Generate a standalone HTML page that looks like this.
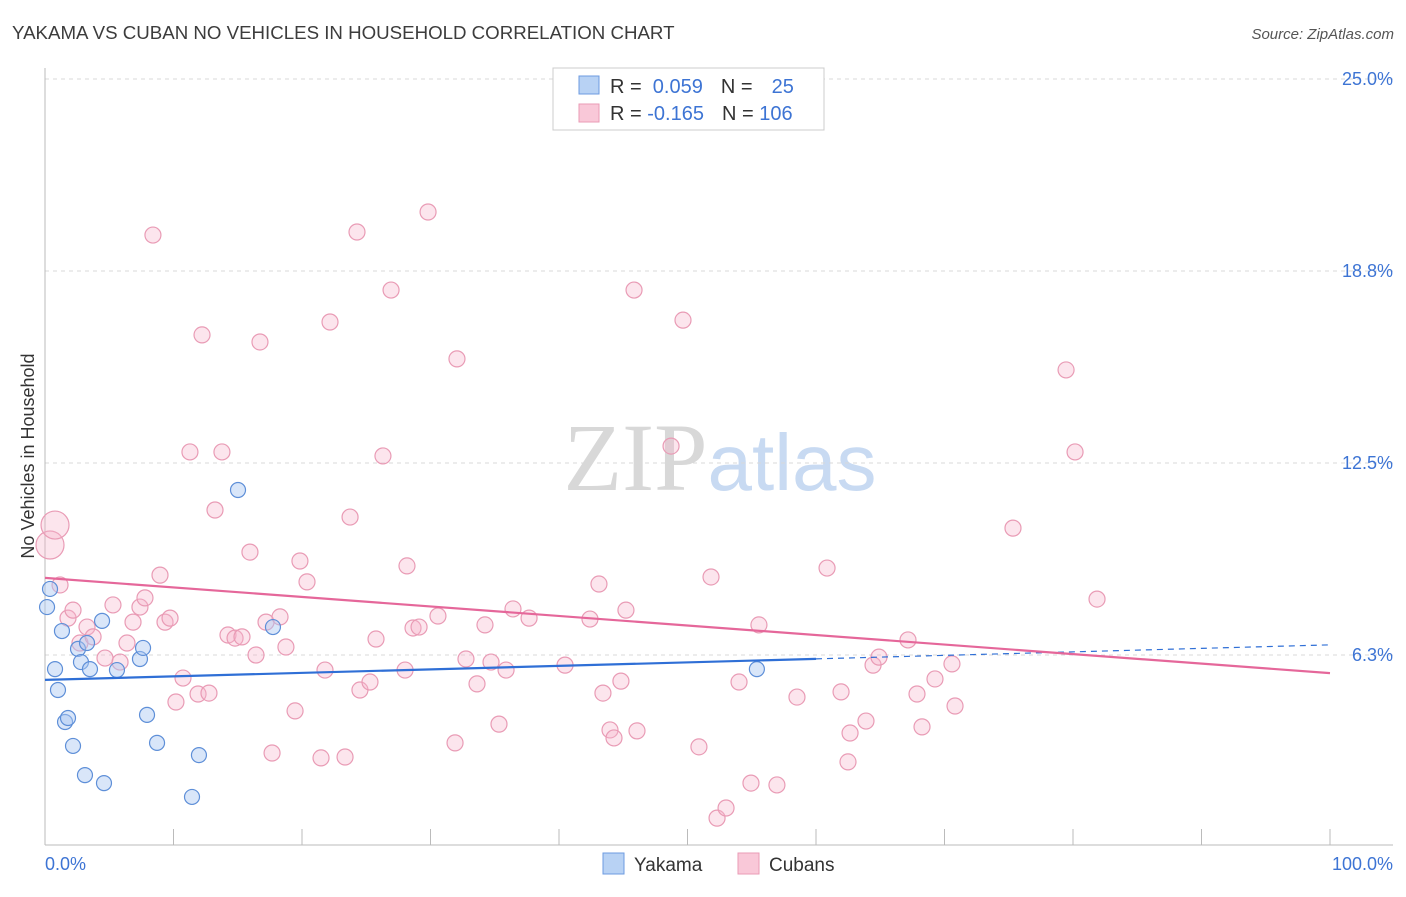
<!DOCTYPE html>
<html><head><meta charset="utf-8"><style>
body{margin:0;background:#fff;font-family:"Liberation Sans",sans-serif;}
svg text{font-family:"Liberation Sans",sans-serif;}
</style></head><body>
<svg id="chart" width="1406" height="892" xmlns="http://www.w3.org/2000/svg">
<text x="12" y="39" font-size="18.7" fill="#3c3c3c">YAKAMA VS CUBAN NO VEHICLES IN HOUSEHOLD CORRELATION CHART</text>
<text x="1394" y="39" font-size="15" fill="#555" text-anchor="end" font-style="italic">Source: ZipAtlas.com</text>
<text x="720" y="490" font-size="96" text-anchor="middle"><tspan fill="#d8d8d8" font-family="Liberation Serif">ZIP</tspan><tspan fill="#c8daf2" font-size="80">atlas</tspan></text>
<text transform="translate(34,456) rotate(-90)" font-size="18" fill="#333" text-anchor="middle">No Vehicles in Household</text>
<g id="grid"></g>
<g id="axes"></g>
<g id="marks"></g>
<g>
<rect x="553" y="68" width="271" height="62" fill="#fff" stroke="#ccc"/>
<rect x="579" y="76" width="20" height="18" fill="#b8d2f4" stroke="#6d9be0"/>
<rect x="579" y="104" width="20" height="18" fill="#f9c8d8" stroke="#ea9bb6"/>
<text x="610" y="93" font-size="20" fill="#333">R = <tspan fill="#3d74d4">&#160;0.059</tspan><tspan dx="18" fill="#333">N = </tspan><tspan fill="#3d74d4" dx="8">&#160;25</tspan></text>
<text x="610" y="120" font-size="20" fill="#333">R = <tspan fill="#3d74d4">-0.165</tspan><tspan dx="18" fill="#333">N = </tspan><tspan fill="#3d74d4">106</tspan></text>
</g>
<g>
<rect x="603" y="853" width="21" height="21" fill="#b8d2f4" stroke="#6d9be0"/>
<text x="634" y="871" font-size="19" fill="#333">Yakama</text>
<rect x="738" y="853" width="21" height="21" fill="#f9c8d8" stroke="#ea9bb6"/>
<text x="769" y="871" font-size="19" fill="#333">Cubans</text>
</g>
</svg>
<script>
const yTicks=[25,18.75,12.5,6.25];
const yTickLabels=["25.0%","18.8%","12.5%","6.3%"];
const yakamaX=[0.16,0.39,0.78,1.01,1.32,1.56,1.79,2.18,2.57,2.80,3.11,3.27,3.50,4.44,4.59,5.60,7.39,7.63,7.94,8.72,11.44,11.98,15.02,17.74,55.4];
const yakamaY=[7.81,8.40,5.79,5.11,7.03,4.07,4.20,3.29,6.45,6.02,2.34,6.64,5.79,7.36,2.08,5.76,6.12,6.48,4.30,3.39,1.63,2.99,11.62,7.16,5.79];
const cubanX=[0.39,0.78,1.17,1.79,2.18,2.72,3.27,3.74,4.67,5.29,5.84,6.38,6.85,7.39,7.78,8.40,8.95,9.34,9.73,10.19,10.74,11.28,11.91,12.22,12.76,13.23,13.77,14.24,14.79,15.33,15.95,16.42,16.73,17.20,17.67,18.29,18.75,19.46,19.84,20.39,21.48,21.79,22.18,23.35,23.74,24.28,24.51,25.29,25.76,26.30,26.93,28.02,28.17,28.64,29.11,29.81,30.58,31.91,32.06,32.76,33.62,34.24,34.71,35.33,35.88,36.42,37.67,40.47,42.41,43.11,43.42,43.97,44.28,44.82,45.21,45.84,46.07,48.72,49.65,50.89,51.83,52.30,53.00,54.01,54.94,55.56,56.96,58.52,60.86,61.95,62.49,62.65,63.89,64.44,64.90,67.16,67.86,68.25,69.26,70.58,70.82,75.33,79.46,80.16,81.87];
const cubanY=[9.83,10.48,8.53,7.45,7.71,6.64,7.16,6.84,6.15,7.88,6.02,6.64,7.32,7.81,8.11,19.92,8.85,7.32,7.45,4.72,5.50,12.86,4.98,16.67,5.01,10.97,12.86,6.90,6.80,6.84,9.60,6.25,16.44,7.32,3.06,7.49,6.51,4.43,9.31,8.63,2.90,5.76,17.09,2.93,10.74,20.02,5.11,5.37,6.77,12.73,18.13,5.76,9.15,7.13,7.16,20.67,7.52,3.39,15.89,6.12,5.31,7.23,6.02,4.00,5.76,7.75,7.45,5.92,7.42,8.56,5.01,3.81,3.55,5.40,7.71,18.13,3.78,13.05,17.15,3.26,8.79,0.94,1.27,5.37,2.08,7.23,2.02,4.88,9.08,5.05,2.77,3.71,4.10,5.92,6.18,6.74,4.98,3.91,5.47,5.96,4.59,10.38,15.53,12.86,8.07];
const yakamaTrend=[5.44,6.58];
const cubanTrend=[8.76,5.66];
const NS="http://www.w3.org/2000/svg";
const X0=45,X1=1330,YB=847,PPU=30.72;
const sx=v=>X0+(X1-X0)*v/100;
const sy=v=>YB-v*PPU;
function mk(tag,attrs,parent){const e=document.createElementNS(NS,tag);for(const k in attrs)e.setAttribute(k,attrs[k]);parent.appendChild(e);return e;}
const grid=document.getElementById('grid'),axes=document.getElementById('axes'),marks=document.getElementById('marks');
yTicks.forEach((t,i)=>{
 const l=mk('line',{x1:45,x2:1393,y1:sy(t),y2:sy(t),stroke:'#d8d8d8','stroke-dasharray':'4,4'},grid);
 
 
 const tx=mk('text',{x:1393,y:sy(t)+6,'font-size':18,fill:'#3d74d4','text-anchor':'end'},grid);
 tx.textContent=yTickLabels[i];
 
 
});
let a=mk('line',{x1:45,x2:45,y1:68,y2:845,stroke:'#bbb'},axes);


a=mk('line',{x1:45,x2:1393,y1:845,y2:845,stroke:'#bbb'},axes);


for(let i=1;i<=10;i++){const t=mk('line',{x1:sx(i*10),x2:sx(i*10),y1:829,y2:845,stroke:'#bbb'},axes);
 
 }
let xl=mk('text',{x:45,y:870,'font-size':18,fill:'#3d74d4'},axes);xl.textContent='0.0%';


xl=mk('text',{x:1393,y:870,'font-size':18,fill:'#3d74d4','text-anchor':'end'},axes);xl.textContent='100.0%';


cubanX.forEach((x,i)=>{
 const big=i<2;
 const c=mk('circle',{cx:sx(x),cy:sy(cubanY[i]),r:big?14:8,fill:'rgba(246,180,202,0.35)',stroke:'#e99bb5','stroke-width':1.2},marks);
 
 
});
yakamaX.forEach((x,i)=>{
 const c=mk('circle',{cx:sx(x),cy:sy(yakamaY[i]),r:7.5,fill:'rgba(170,200,242,0.45)',stroke:'#5e8fd8','stroke-width':1.2},marks);
 
 
});
const yAt=p=>yakamaTrend[0]+(yakamaTrend[1]-yakamaTrend[0])*p/100;
let ln=mk('line',{x1:sx(0),y1:sy(yAt(0)),x2:sx(60),y2:sy(yAt(60)),stroke:'#2f6fd6','stroke-width':2.2},marks);


ln=mk('line',{x1:sx(60),y1:sy(yAt(60)),x2:sx(100),y2:sy(yAt(100)),stroke:'#2f6fd6','stroke-width':1.2,'stroke-dasharray':'6,5'},marks);


ln=mk('line',{x1:sx(0),y1:sy(cubanTrend[0]),x2:sx(100),y2:sy(cubanTrend[1]),stroke:'#e5679a','stroke-width':2.2},marks);


</script>
</body></html>
